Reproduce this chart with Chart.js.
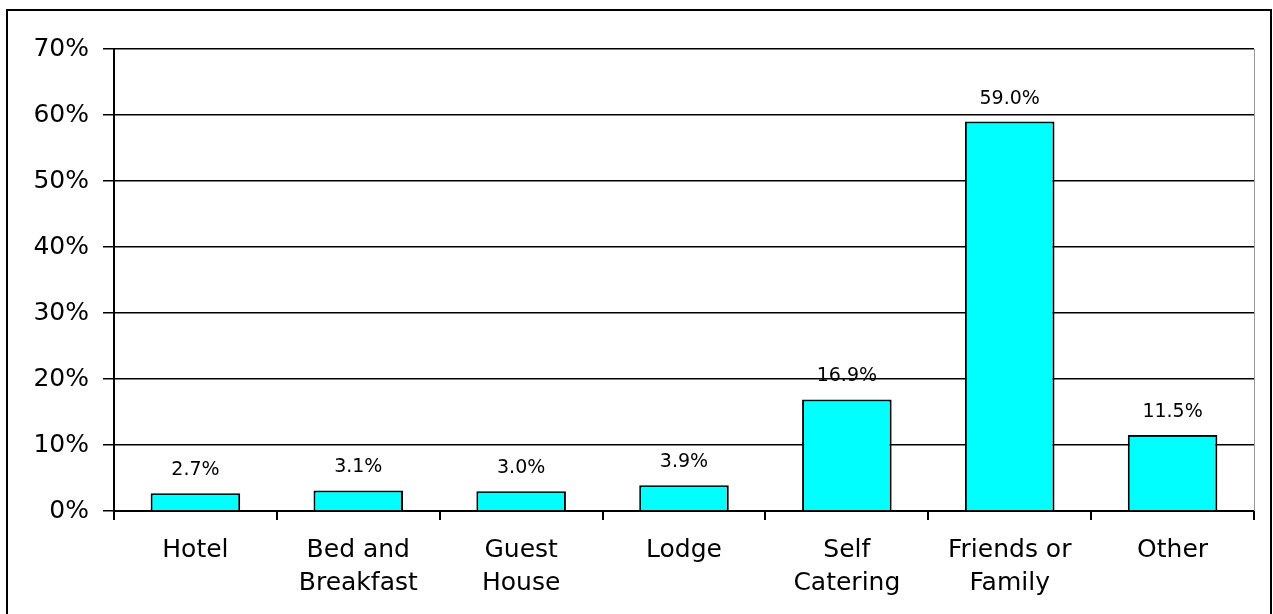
<!DOCTYPE html>
<html>
<head>
<meta charset="utf-8">
<script src="https://cdn.jsdelivr.net/npm/chart.js@4"></script>
<style>
  html, body { margin: 0; padding: 0; background: #fff; }
  #wrap { width: 1273px; height: 614px; }
</style>
</head>
<body>
<div id="wrap"><canvas id="accomChart" width="1273" height="614"></canvas></div>
<script>
// Chart data
const categories = [
    ['Hotel'],
    ['Bed and', 'Breakfast'],
    ['Guest', 'House'],
    ['Lodge'],
    ['Self', 'Catering'],
    ['Friends or', 'Family'],
    ['Other']
];
const shares = [2.7, 3.1, 3.0, 3.9, 16.9, 59.0, 11.5];
const yTicks = [0, 10, 20, 30, 40, 50, 60, 70];

const FONT = 'DejaVu Sans, Arial, sans-serif';

// value labels above each bar
const barLabels = {
    id: 'barLabels',
    afterDatasetsDraw(chart) {
        const ctx = chart.ctx;
        const meta = chart.getDatasetMeta(0);
        ctx.save();
        ctx.font = '19px ' + FONT;
        ctx.fillStyle = '#000';
        ctx.textAlign = 'center';
        ctx.textBaseline = 'middle';
        meta.data.forEach((bar, i) => {
            ctx.fillText(shares[i].toFixed(1) + '%', bar.x, bar.y - 23);
        });
        ctx.restore();
    }
};

// outer frame around the whole picture
const frame = {
    id: 'frame',
    afterDraw(chart) {
        const ctx = chart.ctx;
        ctx.save();
        ctx.strokeStyle = '#000';
        ctx.lineWidth = 2;
        ctx.strokeRect(7, 10, 1264, 620);
        // grey right edge of plot area
        const a = chart.chartArea;
        ctx.strokeStyle = '#999';
        ctx.lineWidth = 1;
        ctx.beginPath();
        ctx.moveTo(a.right + 0.5, a.top);
        ctx.lineTo(a.right + 0.5, a.bottom);
        ctx.stroke();
        ctx.restore();
    }
};

new Chart(document.getElementById('accomChart').getContext('2d'), {
    type: 'bar',
    data: {
        labels: categories,
        datasets: [{
            data: shares,
            backgroundColor: '#00FFFF',
            borderColor: '#000',
            borderWidth: 2,
            barPercentage: 0.55,
            categoryPercentage: 1.0
        }]
    },
    options: {
        responsive: false,
        animation: false,
        layout: { padding: { left: 0, top: 49, right: 19, bottom: 0 } },
        plugins: {
            legend: { display: false },
            tooltip: { enabled: false }
        },
        scales: {
            x: {
                afterFit(axis) { axis.height = 103; },
                grid: { drawOnChartArea: false, drawTicks: true, tickLength: 9, color: '#000', lineWidth: 2 },
                border: { color: '#000', width: 2 },
                ticks: {
                    color: '#000',
                    font: { family: FONT, size: 25, lineHeight: 1.32 },
                    padding: 14,
                    maxRotation: 0,
                    autoSkip: false
                }
            },
            y: {
                min: 0,
                max: 70,
                afterFit(axis) { axis.width = 114; },
                afterBuildTicks(axis) { axis.ticks = yTicks.map(v => ({ value: v })); },
                grid: { color: '#000', lineWidth: 1.5, tickLength: 11 },
                border: { color: '#000', width: 2 },
                ticks: {
                    color: '#000',
                    font: { family: FONT, size: 25 },
                    padding: 14,
                    callback: v => v + '%'
                }
            }
        }
    },
    plugins: [barLabels, frame]
});
</script>
</body>
</html>
